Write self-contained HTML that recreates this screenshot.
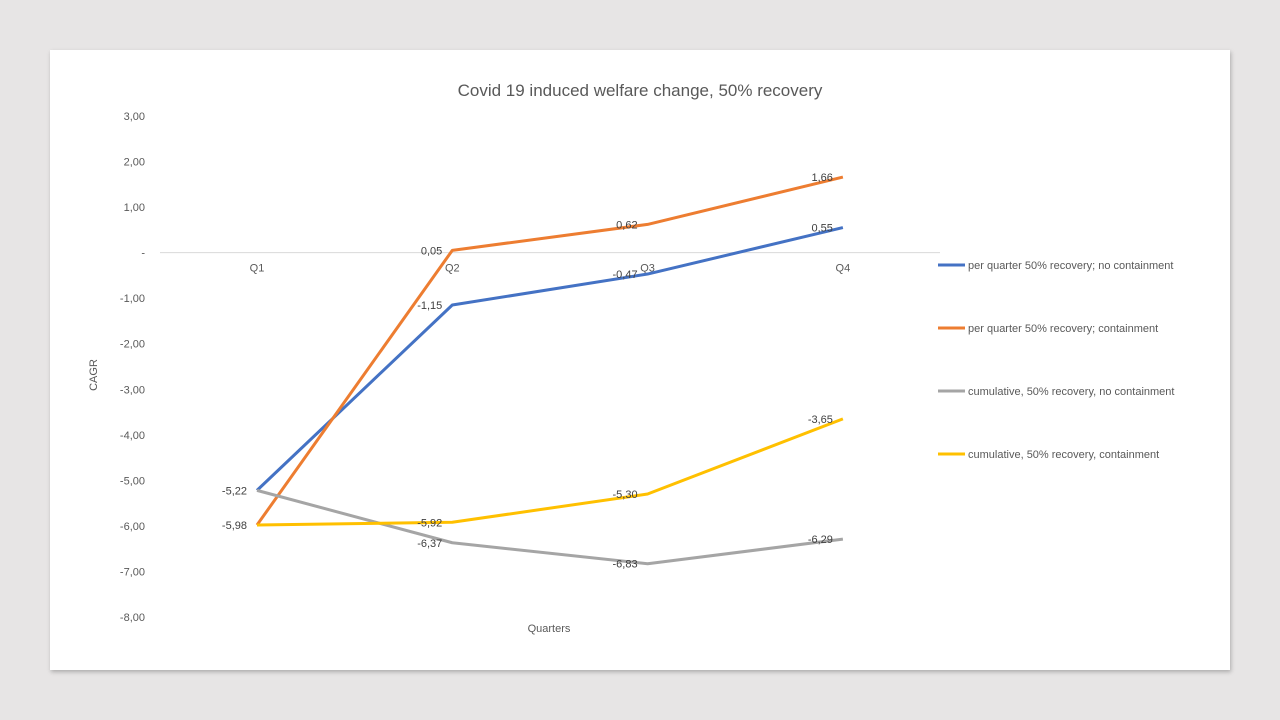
<!DOCTYPE html>
<html><head><meta charset="utf-8"><style>
body{margin:0;background:#e7e5e5;font-family:"Liberation Sans",sans-serif;}
#card{position:absolute;left:50px;top:50px;width:1180px;height:620px;background:#fff;box-shadow:1px 2px 4px rgba(0,0,0,0.25);}
svg{position:absolute;left:0;top:0;}
</style></head><body>
<div id="card"></div>
<svg id="chart" width="1280" height="720" font-family="Liberation Sans, sans-serif"></svg>
<script>
const categories=["Q1","Q2","Q3","Q4"];
const seriesNames=["per quarter 50% recovery; no containment","per quarter 50% recovery; containment","cumulative, 50% recovery, no containment","cumulative, 50% recovery, containment"];
const s1=[-5.22,-1.15,-0.47,0.55];
const s2=[-5.98,0.05,0.62,1.66];
const s3=[-5.22,-6.37,-6.83,-6.29];
const s4=[-5.98,-5.92,-5.30,-3.65];
const yTicks=[3,2,1,0,-1,-2,-3,-4,-5,-6,-7,-8];
const colors=["#4472c4","#ed7d31","#a5a5a5","#ffc000"];
const svg=document.getElementById('chart');
const NS="http://www.w3.org/2000/svg";
const yMax=3,yMin=-8,yTopPx=116,yBotPx=617;
const y=v=>yTopPx+(yMax-v)*(yBotPx-yTopPx)/(yMax-yMin);
const x=i=>257+i*195.3;
function mk(t,a,txt){const e=document.createElementNS(NS,t);for(const k in a)e.setAttribute(k,a[k]);if(txt!=null)e.textContent=txt;svg.appendChild(e);return e;}
const fmt=v=>v===0?"-":v.toFixed(2).replace('.',',');
let e=mk('text',{x:640,y:96,'text-anchor':'middle','font-size':17,fill:'#595959'},'Covid 19 induced welfare change, 50% recovery');


e=mk('line',{x1:160,x2:940,y1:y(0),y2:y(0),stroke:'#d9d9d9','stroke-width':1});


yTicks.forEach(t=>{const el=mk('text',{x:145,y:y(t)+4,'text-anchor':'end','font-size':11,fill:'#595959'},fmt(t));

});
categories.forEach((c,i)=>{const el=mk('text',{x:x(i),y:y(0)+19,'text-anchor':'middle','font-size':11,fill:'#595959'},c);

});
e=mk('text',{x:97,y:375,'text-anchor':'middle','font-size':11,fill:'#595959',transform:'rotate(-90 97 375)'},'CAGR');


e=mk('text',{x:549,y:632,'text-anchor':'middle','font-size':11,fill:'#595959'},'Quarters');


[s1,s2,s3,s4].forEach((s,k)=>{
 const p=mk('polyline',{points:s.map((v,i)=>x(i)+','+y(v)).join(' '),fill:'none',stroke:colors[k],'stroke-width':3,'stroke-linejoin':'round'});
 
 
 s.forEach((v,i)=>{if(i===0&&(k===2||k===3))return;
  const t=mk('text',{x:x(i)-10,y:y(v)+4,'text-anchor':'end','font-size':11,fill:'#404040'},fmt(v));
  
  });
 const ly=265+k*63;
 const l=mk('line',{x1:938,x2:965,y1:ly,y2:ly,stroke:colors[k],'stroke-width':3});
 
 
 const lt=mk('text',{x:968,y:ly+4,'font-size':11,fill:'#595959'},seriesNames[k]);
 
 
});
</script>
</body></html>
